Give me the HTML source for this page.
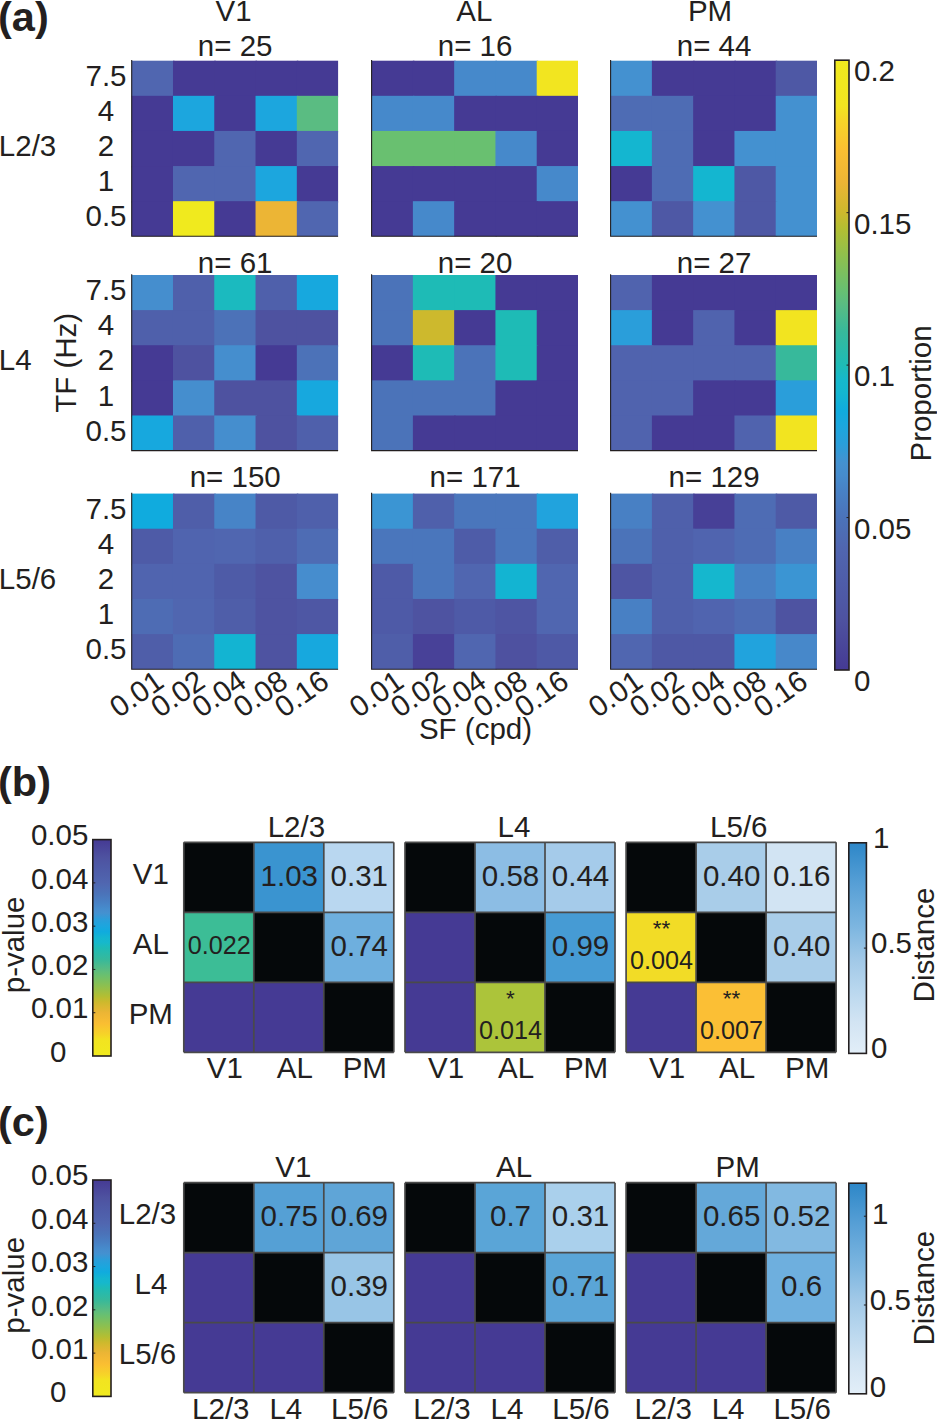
<!DOCTYPE html>
<html><head><meta charset="utf-8"><title>Figure</title>
<style>
html,body{margin:0;padding:0;background:#fff;}
body{width:937px;height:1419px;overflow:hidden;}
svg{display:block;}
text{font-family:"Liberation Sans", sans-serif;fill:#231f20;}
</style></head>
<body>
<svg width="937" height="1419" viewBox="0 0 937 1419">
<rect width="937" height="1419" fill="#ffffff"/>
<g id="panel-a">
<rect x="131.70" y="60.70" width="42.78" height="36.62" fill="#5066b0"/>
<rect x="172.98" y="60.70" width="42.78" height="36.62" fill="#453a94"/>
<rect x="214.26" y="60.70" width="42.78" height="36.62" fill="#453a94"/>
<rect x="255.54" y="60.70" width="42.78" height="36.62" fill="#453a94"/>
<rect x="296.82" y="60.70" width="41.28" height="36.62" fill="#453a94"/>
<rect x="131.70" y="95.82" width="42.78" height="36.62" fill="#453a94"/>
<rect x="172.98" y="95.82" width="42.78" height="36.62" fill="#1ca6de"/>
<rect x="214.26" y="95.82" width="42.78" height="36.62" fill="#453a94"/>
<rect x="255.54" y="95.82" width="42.78" height="36.62" fill="#1ca6de"/>
<rect x="296.82" y="95.82" width="41.28" height="36.62" fill="#5abc82"/>
<rect x="131.70" y="130.94" width="42.78" height="36.62" fill="#453a94"/>
<rect x="172.98" y="130.94" width="42.78" height="36.62" fill="#453a94"/>
<rect x="214.26" y="130.94" width="42.78" height="36.62" fill="#5066b0"/>
<rect x="255.54" y="130.94" width="42.78" height="36.62" fill="#453a94"/>
<rect x="296.82" y="130.94" width="41.28" height="36.62" fill="#5066b0"/>
<rect x="131.70" y="166.06" width="42.78" height="36.62" fill="#453a94"/>
<rect x="172.98" y="166.06" width="42.78" height="36.62" fill="#5066b0"/>
<rect x="214.26" y="166.06" width="42.78" height="36.62" fill="#5066b0"/>
<rect x="255.54" y="166.06" width="42.78" height="36.62" fill="#1ca6de"/>
<rect x="296.82" y="166.06" width="41.28" height="36.62" fill="#453a94"/>
<rect x="131.70" y="201.18" width="42.78" height="35.12" fill="#453a94"/>
<rect x="172.98" y="201.18" width="42.78" height="35.12" fill="#f0ea1e"/>
<rect x="214.26" y="201.18" width="42.78" height="35.12" fill="#453a94"/>
<rect x="255.54" y="201.18" width="42.78" height="35.12" fill="#ecb535"/>
<rect x="296.82" y="201.18" width="41.28" height="35.12" fill="#5066b0"/>
<path d="M131.70 59.90V236.30H338.10" fill="none" stroke="#231f20" stroke-width="1.1"/>
<text x="235.20" y="56.00" font-size="29.5" text-anchor="middle" font-weight="normal" >n= 25</text>
<text x="106.00" y="85.86" font-size="29.5" text-anchor="middle" font-weight="normal" >7.5</text>
<text x="106.00" y="120.98" font-size="29.5" text-anchor="middle" font-weight="normal" >4</text>
<text x="106.00" y="156.10" font-size="29.5" text-anchor="middle" font-weight="normal" >2</text>
<text x="106.00" y="191.22" font-size="29.5" text-anchor="middle" font-weight="normal" >1</text>
<text x="106.00" y="226.34" font-size="29.5" text-anchor="middle" font-weight="normal" >0.5</text>
<rect x="371.60" y="60.70" width="42.78" height="36.62" fill="#453a94"/>
<rect x="412.88" y="60.70" width="42.78" height="36.62" fill="#453a94"/>
<rect x="454.16" y="60.70" width="42.78" height="36.62" fill="#4689cb"/>
<rect x="495.44" y="60.70" width="42.78" height="36.62" fill="#4689cb"/>
<rect x="536.72" y="60.70" width="41.28" height="36.62" fill="#f2e520"/>
<rect x="371.60" y="95.82" width="42.78" height="36.62" fill="#4689cb"/>
<rect x="412.88" y="95.82" width="42.78" height="36.62" fill="#4689cb"/>
<rect x="454.16" y="95.82" width="42.78" height="36.62" fill="#453a94"/>
<rect x="495.44" y="95.82" width="42.78" height="36.62" fill="#453a94"/>
<rect x="536.72" y="95.82" width="41.28" height="36.62" fill="#453a94"/>
<rect x="371.60" y="130.94" width="42.78" height="36.62" fill="#69c070"/>
<rect x="412.88" y="130.94" width="42.78" height="36.62" fill="#69c070"/>
<rect x="454.16" y="130.94" width="42.78" height="36.62" fill="#69c070"/>
<rect x="495.44" y="130.94" width="42.78" height="36.62" fill="#4689cb"/>
<rect x="536.72" y="130.94" width="41.28" height="36.62" fill="#453a94"/>
<rect x="371.60" y="166.06" width="42.78" height="36.62" fill="#453a94"/>
<rect x="412.88" y="166.06" width="42.78" height="36.62" fill="#453a94"/>
<rect x="454.16" y="166.06" width="42.78" height="36.62" fill="#453a94"/>
<rect x="495.44" y="166.06" width="42.78" height="36.62" fill="#453a94"/>
<rect x="536.72" y="166.06" width="41.28" height="36.62" fill="#4689cb"/>
<rect x="371.60" y="201.18" width="42.78" height="35.12" fill="#453a94"/>
<rect x="412.88" y="201.18" width="42.78" height="35.12" fill="#4689cb"/>
<rect x="454.16" y="201.18" width="42.78" height="35.12" fill="#453a94"/>
<rect x="495.44" y="201.18" width="42.78" height="35.12" fill="#453a94"/>
<rect x="536.72" y="201.18" width="41.28" height="35.12" fill="#453a94"/>
<path d="M371.60 59.90V236.30H578.00" fill="none" stroke="#231f20" stroke-width="1.1"/>
<text x="475.10" y="56.00" font-size="29.5" text-anchor="middle" font-weight="normal" >n= 16</text>
<rect x="610.60" y="60.70" width="42.78" height="36.62" fill="#4491d0"/>
<rect x="651.88" y="60.70" width="42.78" height="36.62" fill="#453a94"/>
<rect x="693.16" y="60.70" width="42.78" height="36.62" fill="#453a94"/>
<rect x="734.44" y="60.70" width="42.78" height="36.62" fill="#453a94"/>
<rect x="775.72" y="60.70" width="41.28" height="36.62" fill="#4e58a5"/>
<rect x="610.60" y="95.82" width="42.78" height="36.62" fill="#4e6cb4"/>
<rect x="651.88" y="95.82" width="42.78" height="36.62" fill="#4e6cb4"/>
<rect x="693.16" y="95.82" width="42.78" height="36.62" fill="#453a94"/>
<rect x="734.44" y="95.82" width="42.78" height="36.62" fill="#453a94"/>
<rect x="775.72" y="95.82" width="41.28" height="36.62" fill="#4491d0"/>
<rect x="610.60" y="130.94" width="42.78" height="36.62" fill="#14b6d0"/>
<rect x="651.88" y="130.94" width="42.78" height="36.62" fill="#4e6cb4"/>
<rect x="693.16" y="130.94" width="42.78" height="36.62" fill="#453a94"/>
<rect x="734.44" y="130.94" width="42.78" height="36.62" fill="#4491d0"/>
<rect x="775.72" y="130.94" width="41.28" height="36.62" fill="#4491d0"/>
<rect x="610.60" y="166.06" width="42.78" height="36.62" fill="#453a94"/>
<rect x="651.88" y="166.06" width="42.78" height="36.62" fill="#4e6cb4"/>
<rect x="693.16" y="166.06" width="42.78" height="36.62" fill="#14b6d0"/>
<rect x="734.44" y="166.06" width="42.78" height="36.62" fill="#4e58a5"/>
<rect x="775.72" y="166.06" width="41.28" height="36.62" fill="#4491d0"/>
<rect x="610.60" y="201.18" width="42.78" height="35.12" fill="#4491d0"/>
<rect x="651.88" y="201.18" width="42.78" height="35.12" fill="#4e58a5"/>
<rect x="693.16" y="201.18" width="42.78" height="35.12" fill="#4491d0"/>
<rect x="734.44" y="201.18" width="42.78" height="35.12" fill="#4e58a5"/>
<rect x="775.72" y="201.18" width="41.28" height="35.12" fill="#4491d0"/>
<path d="M610.60 59.90V236.30H817.00" fill="none" stroke="#231f20" stroke-width="1.1"/>
<text x="714.10" y="56.00" font-size="29.5" text-anchor="middle" font-weight="normal" >n= 44</text>
<rect x="131.70" y="275.00" width="42.78" height="36.62" fill="#458ece"/>
<rect x="172.98" y="275.00" width="42.78" height="36.62" fill="#4f60ab"/>
<rect x="214.26" y="275.00" width="42.78" height="36.62" fill="#1bbabf"/>
<rect x="255.54" y="275.00" width="42.78" height="36.62" fill="#4f60ab"/>
<rect x="296.82" y="275.00" width="41.28" height="36.62" fill="#17a8de"/>
<rect x="131.70" y="310.12" width="42.78" height="36.62" fill="#4f60ab"/>
<rect x="172.98" y="310.12" width="42.78" height="36.62" fill="#4f60ab"/>
<rect x="214.26" y="310.12" width="42.78" height="36.62" fill="#4c72b8"/>
<rect x="255.54" y="310.12" width="42.78" height="36.62" fill="#4e52a0"/>
<rect x="296.82" y="310.12" width="41.28" height="36.62" fill="#4e52a0"/>
<rect x="131.70" y="345.24" width="42.78" height="36.62" fill="#453a94"/>
<rect x="172.98" y="345.24" width="42.78" height="36.62" fill="#4e52a0"/>
<rect x="214.26" y="345.24" width="42.78" height="36.62" fill="#458ece"/>
<rect x="255.54" y="345.24" width="42.78" height="36.62" fill="#453a94"/>
<rect x="296.82" y="345.24" width="41.28" height="36.62" fill="#4c72b8"/>
<rect x="131.70" y="380.36" width="42.78" height="36.62" fill="#453a94"/>
<rect x="172.98" y="380.36" width="42.78" height="36.62" fill="#458ece"/>
<rect x="214.26" y="380.36" width="42.78" height="36.62" fill="#4e52a0"/>
<rect x="255.54" y="380.36" width="42.78" height="36.62" fill="#4e52a0"/>
<rect x="296.82" y="380.36" width="41.28" height="36.62" fill="#17a8de"/>
<rect x="131.70" y="415.48" width="42.78" height="35.12" fill="#17a8de"/>
<rect x="172.98" y="415.48" width="42.78" height="35.12" fill="#4f60ab"/>
<rect x="214.26" y="415.48" width="42.78" height="35.12" fill="#458ece"/>
<rect x="255.54" y="415.48" width="42.78" height="35.12" fill="#4e52a0"/>
<rect x="296.82" y="415.48" width="41.28" height="35.12" fill="#4f60ab"/>
<path d="M131.70 274.20V450.60H338.10" fill="none" stroke="#231f20" stroke-width="1.1"/>
<text x="235.20" y="272.70" font-size="29.5" text-anchor="middle" font-weight="normal" >n= 61</text>
<text x="106.00" y="300.16" font-size="29.5" text-anchor="middle" font-weight="normal" >7.5</text>
<text x="106.00" y="335.28" font-size="29.5" text-anchor="middle" font-weight="normal" >4</text>
<text x="106.00" y="370.40" font-size="29.5" text-anchor="middle" font-weight="normal" >2</text>
<text x="106.00" y="405.52" font-size="29.5" text-anchor="middle" font-weight="normal" >1</text>
<text x="106.00" y="440.64" font-size="29.5" text-anchor="middle" font-weight="normal" >0.5</text>
<rect x="371.60" y="275.00" width="42.78" height="36.62" fill="#4b73b9"/>
<rect x="412.88" y="275.00" width="42.78" height="36.62" fill="#1ebbb6"/>
<rect x="454.16" y="275.00" width="42.78" height="36.62" fill="#1ebbb6"/>
<rect x="495.44" y="275.00" width="42.78" height="36.62" fill="#453a94"/>
<rect x="536.72" y="275.00" width="41.28" height="36.62" fill="#453a94"/>
<rect x="371.60" y="310.12" width="42.78" height="36.62" fill="#4b73b9"/>
<rect x="412.88" y="310.12" width="42.78" height="36.62" fill="#cdb92d"/>
<rect x="454.16" y="310.12" width="42.78" height="36.62" fill="#453a94"/>
<rect x="495.44" y="310.12" width="42.78" height="36.62" fill="#1ebbb6"/>
<rect x="536.72" y="310.12" width="41.28" height="36.62" fill="#453a94"/>
<rect x="371.60" y="345.24" width="42.78" height="36.62" fill="#453a94"/>
<rect x="412.88" y="345.24" width="42.78" height="36.62" fill="#1ebbb6"/>
<rect x="454.16" y="345.24" width="42.78" height="36.62" fill="#4b73b9"/>
<rect x="495.44" y="345.24" width="42.78" height="36.62" fill="#1ebbb6"/>
<rect x="536.72" y="345.24" width="41.28" height="36.62" fill="#453a94"/>
<rect x="371.60" y="380.36" width="42.78" height="36.62" fill="#4b73b9"/>
<rect x="412.88" y="380.36" width="42.78" height="36.62" fill="#4b73b9"/>
<rect x="454.16" y="380.36" width="42.78" height="36.62" fill="#4b73b9"/>
<rect x="495.44" y="380.36" width="42.78" height="36.62" fill="#453a94"/>
<rect x="536.72" y="380.36" width="41.28" height="36.62" fill="#453a94"/>
<rect x="371.60" y="415.48" width="42.78" height="35.12" fill="#4b73b9"/>
<rect x="412.88" y="415.48" width="42.78" height="35.12" fill="#453a94"/>
<rect x="454.16" y="415.48" width="42.78" height="35.12" fill="#453a94"/>
<rect x="495.44" y="415.48" width="42.78" height="35.12" fill="#453a94"/>
<rect x="536.72" y="415.48" width="41.28" height="35.12" fill="#453a94"/>
<path d="M371.60 274.20V450.60H578.00" fill="none" stroke="#231f20" stroke-width="1.1"/>
<text x="475.10" y="272.70" font-size="29.5" text-anchor="middle" font-weight="normal" >n= 20</text>
<rect x="610.60" y="275.00" width="42.78" height="36.62" fill="#5063ae"/>
<rect x="651.88" y="275.00" width="42.78" height="36.62" fill="#453a94"/>
<rect x="693.16" y="275.00" width="42.78" height="36.62" fill="#453a94"/>
<rect x="734.44" y="275.00" width="42.78" height="36.62" fill="#453a94"/>
<rect x="775.72" y="275.00" width="41.28" height="36.62" fill="#453a94"/>
<rect x="610.60" y="310.12" width="42.78" height="36.62" fill="#2a9eda"/>
<rect x="651.88" y="310.12" width="42.78" height="36.62" fill="#453a94"/>
<rect x="693.16" y="310.12" width="42.78" height="36.62" fill="#5063ae"/>
<rect x="734.44" y="310.12" width="42.78" height="36.62" fill="#453a94"/>
<rect x="775.72" y="310.12" width="41.28" height="36.62" fill="#f2e420"/>
<rect x="610.60" y="345.24" width="42.78" height="36.62" fill="#5063ae"/>
<rect x="651.88" y="345.24" width="42.78" height="36.62" fill="#5063ae"/>
<rect x="693.16" y="345.24" width="42.78" height="36.62" fill="#5063ae"/>
<rect x="734.44" y="345.24" width="42.78" height="36.62" fill="#5063ae"/>
<rect x="775.72" y="345.24" width="41.28" height="36.62" fill="#37b99b"/>
<rect x="610.60" y="380.36" width="42.78" height="36.62" fill="#5063ae"/>
<rect x="651.88" y="380.36" width="42.78" height="36.62" fill="#5063ae"/>
<rect x="693.16" y="380.36" width="42.78" height="36.62" fill="#453a94"/>
<rect x="734.44" y="380.36" width="42.78" height="36.62" fill="#453a94"/>
<rect x="775.72" y="380.36" width="41.28" height="36.62" fill="#2a9eda"/>
<rect x="610.60" y="415.48" width="42.78" height="35.12" fill="#5063ae"/>
<rect x="651.88" y="415.48" width="42.78" height="35.12" fill="#453a94"/>
<rect x="693.16" y="415.48" width="42.78" height="35.12" fill="#453a94"/>
<rect x="734.44" y="415.48" width="42.78" height="35.12" fill="#5063ae"/>
<rect x="775.72" y="415.48" width="41.28" height="35.12" fill="#f2e420"/>
<path d="M610.60 274.20V450.60H817.00" fill="none" stroke="#231f20" stroke-width="1.1"/>
<text x="714.10" y="272.70" font-size="29.5" text-anchor="middle" font-weight="normal" >n= 27</text>
<rect x="131.70" y="493.60" width="42.78" height="36.62" fill="#10abde"/>
<rect x="172.98" y="493.60" width="42.78" height="36.62" fill="#4f5ea9"/>
<rect x="214.26" y="493.60" width="42.78" height="36.62" fill="#4784c7"/>
<rect x="255.54" y="493.60" width="42.78" height="36.62" fill="#4e5aa6"/>
<rect x="296.82" y="493.60" width="41.28" height="36.62" fill="#4f60ab"/>
<rect x="131.70" y="528.72" width="42.78" height="36.62" fill="#4e5ba7"/>
<rect x="172.98" y="528.72" width="42.78" height="36.62" fill="#5064af"/>
<rect x="214.26" y="528.72" width="42.78" height="36.62" fill="#5066b0"/>
<rect x="255.54" y="528.72" width="42.78" height="36.62" fill="#4f60ab"/>
<rect x="296.82" y="528.72" width="41.28" height="36.62" fill="#4e6cb4"/>
<rect x="131.70" y="563.84" width="42.78" height="36.62" fill="#5064af"/>
<rect x="172.98" y="563.84" width="42.78" height="36.62" fill="#5064af"/>
<rect x="214.26" y="563.84" width="42.78" height="36.62" fill="#4e5ba7"/>
<rect x="255.54" y="563.84" width="42.78" height="36.62" fill="#4e53a1"/>
<rect x="296.82" y="563.84" width="41.28" height="36.62" fill="#468dce"/>
<rect x="131.70" y="598.96" width="42.78" height="36.62" fill="#4e6cb4"/>
<rect x="172.98" y="598.96" width="42.78" height="36.62" fill="#5066b0"/>
<rect x="214.26" y="598.96" width="42.78" height="36.62" fill="#4f5ea9"/>
<rect x="255.54" y="598.96" width="42.78" height="36.62" fill="#4e53a1"/>
<rect x="296.82" y="598.96" width="41.28" height="36.62" fill="#4e57a4"/>
<rect x="131.70" y="634.08" width="42.78" height="35.12" fill="#4f5ea9"/>
<rect x="172.98" y="634.08" width="42.78" height="35.12" fill="#4e6cb4"/>
<rect x="214.26" y="634.08" width="42.78" height="35.12" fill="#13b4d2"/>
<rect x="255.54" y="634.08" width="42.78" height="35.12" fill="#4e53a1"/>
<rect x="296.82" y="634.08" width="41.28" height="35.12" fill="#17a8de"/>
<path d="M131.70 492.80V669.20H338.10" fill="none" stroke="#231f20" stroke-width="1.1"/>
<text x="235.20" y="487.00" font-size="29.5" text-anchor="middle" font-weight="normal" >n= 150</text>
<text x="106.00" y="518.76" font-size="29.5" text-anchor="middle" font-weight="normal" >7.5</text>
<text x="106.00" y="553.88" font-size="29.5" text-anchor="middle" font-weight="normal" >4</text>
<text x="106.00" y="589.00" font-size="29.5" text-anchor="middle" font-weight="normal" >2</text>
<text x="106.00" y="624.12" font-size="29.5" text-anchor="middle" font-weight="normal" >1</text>
<text x="106.00" y="659.24" font-size="29.5" text-anchor="middle" font-weight="normal" >0.5</text>
<text x="165.74" y="685.60" font-size="29.5" text-anchor="end" transform="rotate(-35 165.74 685.60)">0.01</text>
<text x="207.02" y="685.60" font-size="29.5" text-anchor="end" transform="rotate(-35 207.02 685.60)">0.02</text>
<text x="248.30" y="685.60" font-size="29.5" text-anchor="end" transform="rotate(-35 248.30 685.60)">0.04</text>
<text x="289.58" y="685.60" font-size="29.5" text-anchor="end" transform="rotate(-35 289.58 685.60)">0.08</text>
<text x="330.86" y="685.60" font-size="29.5" text-anchor="end" transform="rotate(-35 330.86 685.60)">0.16</text>
<rect x="371.60" y="493.60" width="42.78" height="36.62" fill="#3b95d3"/>
<rect x="412.88" y="493.60" width="42.78" height="36.62" fill="#4f60ab"/>
<rect x="454.16" y="493.60" width="42.78" height="36.62" fill="#4a76bc"/>
<rect x="495.44" y="493.60" width="42.78" height="36.62" fill="#4a76bc"/>
<rect x="536.72" y="493.60" width="41.28" height="36.62" fill="#21a3dd"/>
<rect x="371.60" y="528.72" width="42.78" height="36.62" fill="#4a76bc"/>
<rect x="412.88" y="528.72" width="42.78" height="36.62" fill="#4a76bc"/>
<rect x="454.16" y="528.72" width="42.78" height="36.62" fill="#4e5ca8"/>
<rect x="495.44" y="528.72" width="42.78" height="36.62" fill="#4a76bc"/>
<rect x="536.72" y="528.72" width="41.28" height="36.62" fill="#4f5ea9"/>
<rect x="371.60" y="563.84" width="42.78" height="36.62" fill="#4e5aa7"/>
<rect x="412.88" y="563.84" width="42.78" height="36.62" fill="#4a76bc"/>
<rect x="454.16" y="563.84" width="42.78" height="36.62" fill="#5066b0"/>
<rect x="495.44" y="563.84" width="42.78" height="36.62" fill="#13b4d2"/>
<rect x="536.72" y="563.84" width="41.28" height="36.62" fill="#5066b0"/>
<rect x="371.60" y="598.96" width="42.78" height="36.62" fill="#4e5aa7"/>
<rect x="412.88" y="598.96" width="42.78" height="36.62" fill="#4e53a1"/>
<rect x="454.16" y="598.96" width="42.78" height="36.62" fill="#4e5aa7"/>
<rect x="495.44" y="598.96" width="42.78" height="36.62" fill="#4e55a3"/>
<rect x="536.72" y="598.96" width="41.28" height="36.62" fill="#5066b0"/>
<rect x="371.60" y="634.08" width="42.78" height="35.12" fill="#4f5ea9"/>
<rect x="412.88" y="634.08" width="42.78" height="35.12" fill="#484198"/>
<rect x="454.16" y="634.08" width="42.78" height="35.12" fill="#5066b0"/>
<rect x="495.44" y="634.08" width="42.78" height="35.12" fill="#4e51a0"/>
<rect x="536.72" y="634.08" width="41.28" height="35.12" fill="#4e59a6"/>
<path d="M371.60 492.80V669.20H578.00" fill="none" stroke="#231f20" stroke-width="1.1"/>
<text x="475.10" y="487.00" font-size="29.5" text-anchor="middle" font-weight="normal" >n= 171</text>
<text x="405.64" y="685.60" font-size="29.5" text-anchor="end" transform="rotate(-35 405.64 685.60)">0.01</text>
<text x="446.92" y="685.60" font-size="29.5" text-anchor="end" transform="rotate(-35 446.92 685.60)">0.02</text>
<text x="488.20" y="685.60" font-size="29.5" text-anchor="end" transform="rotate(-35 488.20 685.60)">0.04</text>
<text x="529.48" y="685.60" font-size="29.5" text-anchor="end" transform="rotate(-35 529.48 685.60)">0.08</text>
<text x="570.76" y="685.60" font-size="29.5" text-anchor="end" transform="rotate(-35 570.76 685.60)">0.16</text>
<rect x="610.60" y="493.60" width="42.78" height="36.62" fill="#4880c4"/>
<rect x="651.88" y="493.60" width="42.78" height="36.62" fill="#4f60ab"/>
<rect x="693.16" y="493.60" width="42.78" height="36.62" fill="#474097"/>
<rect x="734.44" y="493.60" width="42.78" height="36.62" fill="#4e6cb4"/>
<rect x="775.72" y="493.60" width="41.28" height="36.62" fill="#4e5aa6"/>
<rect x="610.60" y="528.72" width="42.78" height="36.62" fill="#4b73b9"/>
<rect x="651.88" y="528.72" width="42.78" height="36.62" fill="#4f60ab"/>
<rect x="693.16" y="528.72" width="42.78" height="36.62" fill="#5064af"/>
<rect x="734.44" y="528.72" width="42.78" height="36.62" fill="#4e6cb4"/>
<rect x="775.72" y="528.72" width="41.28" height="36.62" fill="#4880c4"/>
<rect x="610.60" y="563.84" width="42.78" height="36.62" fill="#4e55a3"/>
<rect x="651.88" y="563.84" width="42.78" height="36.62" fill="#4f60ab"/>
<rect x="693.16" y="563.84" width="42.78" height="36.62" fill="#15b7ce"/>
<rect x="734.44" y="563.84" width="42.78" height="36.62" fill="#4880c4"/>
<rect x="775.72" y="563.84" width="41.28" height="36.62" fill="#3b95d3"/>
<rect x="610.60" y="598.96" width="42.78" height="36.62" fill="#4880c4"/>
<rect x="651.88" y="598.96" width="42.78" height="36.62" fill="#4f60ab"/>
<rect x="693.16" y="598.96" width="42.78" height="36.62" fill="#5064af"/>
<rect x="734.44" y="598.96" width="42.78" height="36.62" fill="#4e6cb4"/>
<rect x="775.72" y="598.96" width="41.28" height="36.62" fill="#4e53a1"/>
<rect x="610.60" y="634.08" width="42.78" height="35.12" fill="#5066b0"/>
<rect x="651.88" y="634.08" width="42.78" height="35.12" fill="#4e58a5"/>
<rect x="693.16" y="634.08" width="42.78" height="35.12" fill="#4e58a5"/>
<rect x="734.44" y="634.08" width="42.78" height="35.12" fill="#21a3dd"/>
<rect x="775.72" y="634.08" width="41.28" height="35.12" fill="#4788ca"/>
<path d="M610.60 492.80V669.20H817.00" fill="none" stroke="#231f20" stroke-width="1.1"/>
<text x="714.10" y="487.00" font-size="29.5" text-anchor="middle" font-weight="normal" >n= 129</text>
<text x="644.64" y="685.60" font-size="29.5" text-anchor="end" transform="rotate(-35 644.64 685.60)">0.01</text>
<text x="685.92" y="685.60" font-size="29.5" text-anchor="end" transform="rotate(-35 685.92 685.60)">0.02</text>
<text x="727.20" y="685.60" font-size="29.5" text-anchor="end" transform="rotate(-35 727.20 685.60)">0.04</text>
<text x="768.48" y="685.60" font-size="29.5" text-anchor="end" transform="rotate(-35 768.48 685.60)">0.08</text>
<text x="809.76" y="685.60" font-size="29.5" text-anchor="end" transform="rotate(-35 809.76 685.60)">0.16</text>
<text x="233.60" y="20.80" font-size="29.5" text-anchor="middle" font-weight="normal" >V1</text>
<text x="474.30" y="20.80" font-size="29.5" text-anchor="middle" font-weight="normal" >AL</text>
<text x="710.00" y="20.80" font-size="29.5" text-anchor="middle" font-weight="normal" >PM</text>
<text x="-1.20" y="156.10" font-size="29.5" text-anchor="start" font-weight="normal" >L2/3</text>
<text x="-1.20" y="370.40" font-size="29.5" text-anchor="start" font-weight="normal" >L4</text>
<text x="-1.20" y="589.00" font-size="29.5" text-anchor="start" font-weight="normal" >L5/6</text>
<text x="0" y="0" font-size="29.5" text-anchor="middle" transform="translate(75.5 362.8) rotate(-90)">TF (Hz)</text>
<text x="475.50" y="738.50" font-size="29.5" text-anchor="middle" font-weight="normal" >SF (cpd)</text>
<text x="-2.00" y="31.00" font-size="41.5" text-anchor="start" font-weight="bold" >(a)</text>
<defs><linearGradient id="gpar" x1="0" y1="1" x2="0" y2="0">
<stop offset="0.000" stop-color="#453a94"/>
<stop offset="0.082" stop-color="#4e52a0"/>
<stop offset="0.115" stop-color="#4e58a5"/>
<stop offset="0.165" stop-color="#4f60ab"/>
<stop offset="0.200" stop-color="#5066b0"/>
<stop offset="0.250" stop-color="#4b73b9"/>
<stop offset="0.290" stop-color="#4880c4"/>
<stop offset="0.320" stop-color="#468ccd"/>
<stop offset="0.340" stop-color="#4491d0"/>
<stop offset="0.370" stop-color="#2a9eda"/>
<stop offset="0.400" stop-color="#1ca6de"/>
<stop offset="0.425" stop-color="#10abde"/>
<stop offset="0.455" stop-color="#14b6d0"/>
<stop offset="0.475" stop-color="#16b8cc"/>
<stop offset="0.500" stop-color="#1ebbb6"/>
<stop offset="0.555" stop-color="#37b99b"/>
<stop offset="0.600" stop-color="#5abc82"/>
<stop offset="0.625" stop-color="#69c070"/>
<stop offset="0.675" stop-color="#8cc050"/>
<stop offset="0.725" stop-color="#b4be32"/>
<stop offset="0.750" stop-color="#cdb92d"/>
<stop offset="0.800" stop-color="#ecb535"/>
<stop offset="0.850" stop-color="#fabe32"/>
<stop offset="0.900" stop-color="#f6d428"/>
<stop offset="0.925" stop-color="#f2e420"/>
<stop offset="1.000" stop-color="#f0ea1e"/>
</linearGradient>
<linearGradient id="gparr" x1="0" y1="0" x2="0" y2="1">
<stop offset="0.000" stop-color="#453a94"/>
<stop offset="0.082" stop-color="#4e52a0"/>
<stop offset="0.115" stop-color="#4e58a5"/>
<stop offset="0.165" stop-color="#4f60ab"/>
<stop offset="0.200" stop-color="#5066b0"/>
<stop offset="0.250" stop-color="#4b73b9"/>
<stop offset="0.290" stop-color="#4880c4"/>
<stop offset="0.320" stop-color="#468ccd"/>
<stop offset="0.340" stop-color="#4491d0"/>
<stop offset="0.370" stop-color="#2a9eda"/>
<stop offset="0.400" stop-color="#1ca6de"/>
<stop offset="0.425" stop-color="#10abde"/>
<stop offset="0.455" stop-color="#14b6d0"/>
<stop offset="0.475" stop-color="#16b8cc"/>
<stop offset="0.500" stop-color="#1ebbb6"/>
<stop offset="0.555" stop-color="#37b99b"/>
<stop offset="0.600" stop-color="#5abc82"/>
<stop offset="0.625" stop-color="#69c070"/>
<stop offset="0.675" stop-color="#8cc050"/>
<stop offset="0.725" stop-color="#b4be32"/>
<stop offset="0.750" stop-color="#cdb92d"/>
<stop offset="0.800" stop-color="#ecb535"/>
<stop offset="0.850" stop-color="#fabe32"/>
<stop offset="0.900" stop-color="#f6d428"/>
<stop offset="0.925" stop-color="#f2e420"/>
<stop offset="1.000" stop-color="#f0ea1e"/>
</linearGradient></defs>
<rect x="834.8" y="60.2" width="14.2" height="609.8" fill="url(#gpar)" stroke="#231f20" stroke-width="1.6"/>
<text x="854.00" y="691.00" font-size="29.5" text-anchor="start" font-weight="normal" >0</text>
<line x1="846.50" y1="517.55" x2="849.00" y2="517.55" stroke="#231f20" stroke-width="1"/>
<text x="854.00" y="538.55" font-size="29.5" text-anchor="start" font-weight="normal" >0.05</text>
<line x1="846.50" y1="365.10" x2="849.00" y2="365.10" stroke="#231f20" stroke-width="1"/>
<text x="854.00" y="386.10" font-size="29.5" text-anchor="start" font-weight="normal" >0.1</text>
<line x1="846.50" y1="212.65" x2="849.00" y2="212.65" stroke="#231f20" stroke-width="1"/>
<text x="854.00" y="233.65" font-size="29.5" text-anchor="start" font-weight="normal" >0.15</text>
<text x="854.00" y="81.20" font-size="29.5" text-anchor="start" font-weight="normal" >0.2</text>
<text x="0" y="0" font-size="29.5" text-anchor="middle" transform="translate(931.3 393.5) rotate(-90)">Proportion</text>
</g>
<defs><linearGradient id="gblue" x1="0" y1="1" x2="0" y2="0">
<stop offset="0.000" stop-color="#e2eef8"/>
<stop offset="0.150" stop-color="#d2e4f3"/>
<stop offset="0.300" stop-color="#b9d7ee"/>
<stop offset="0.450" stop-color="#a0c8e7"/>
<stop offset="0.600" stop-color="#7db6e0"/>
<stop offset="0.800" stop-color="#58a0d6"/>
<stop offset="1.000" stop-color="#2d87c8"/>
</linearGradient></defs>
<text x="-2.00" y="795.70" font-size="41.5" text-anchor="start" font-weight="bold" >(b)</text>
<rect x="92.8" y="839.60" width="18.2" height="216.4" fill="url(#gparr)" stroke="#231f20" stroke-width="1.6"/>
<text x="88.30" y="844.70" font-size="29.5" text-anchor="end" font-weight="normal" >0.05</text>
<line x1="92.80" y1="882.88" x2="95.30" y2="882.88" stroke="#231f20" stroke-width="1"/>
<text x="88.30" y="888.70" font-size="29.5" text-anchor="end" font-weight="normal" >0.04</text>
<line x1="92.80" y1="926.16" x2="95.30" y2="926.16" stroke="#231f20" stroke-width="1"/>
<text x="88.30" y="931.70" font-size="29.5" text-anchor="end" font-weight="normal" >0.03</text>
<line x1="92.80" y1="969.44" x2="95.30" y2="969.44" stroke="#231f20" stroke-width="1"/>
<text x="88.30" y="975.30" font-size="29.5" text-anchor="end" font-weight="normal" >0.02</text>
<line x1="92.80" y1="1012.72" x2="95.30" y2="1012.72" stroke="#231f20" stroke-width="1"/>
<text x="88.30" y="1018.30" font-size="29.5" text-anchor="end" font-weight="normal" >0.01</text>
<text x="66.30" y="1061.70" font-size="29.5" text-anchor="end" font-weight="normal" >0</text>
<text x="0" y="0" font-size="29.5" text-anchor="middle" transform="translate(24.0 944.90) rotate(-90)">p-value</text>
<text x="150.80" y="884.00" font-size="29.5" text-anchor="middle" font-weight="normal" >V1</text>
<text x="150.80" y="954.00" font-size="29.5" text-anchor="middle" font-weight="normal" >AL</text>
<text x="150.80" y="1024.00" font-size="29.5" text-anchor="middle" font-weight="normal" >PM</text>
<rect x="183.80" y="842.30" width="70.00" height="70.00" fill="#05080a"/>
<rect x="253.80" y="842.30" width="70.00" height="70.00" fill="#3a94d0"/>
<rect x="323.80" y="842.30" width="70.00" height="70.00" fill="#b9d7f0"/>
<rect x="183.80" y="912.30" width="70.00" height="70.00" fill="#3cbd96"/>
<rect x="253.80" y="912.30" width="70.00" height="70.00" fill="#05080a"/>
<rect x="323.80" y="912.30" width="70.00" height="70.00" fill="#6eafde"/>
<rect x="183.80" y="982.30" width="70.00" height="70.00" fill="#453a94"/>
<rect x="253.80" y="982.30" width="70.00" height="70.00" fill="#453a94"/>
<rect x="323.80" y="982.30" width="70.00" height="70.00" fill="#05080a"/>
<line x1="183.80" y1="842.30" x2="183.80" y2="1052.30" stroke="#4a4a4a" stroke-width="1.7"/>
<line x1="183.80" y1="842.30" x2="393.80" y2="842.30" stroke="#4a4a4a" stroke-width="1.7"/>
<line x1="253.80" y1="842.30" x2="253.80" y2="1052.30" stroke="#4a4a4a" stroke-width="1.7"/>
<line x1="183.80" y1="912.30" x2="393.80" y2="912.30" stroke="#4a4a4a" stroke-width="1.7"/>
<line x1="323.80" y1="842.30" x2="323.80" y2="1052.30" stroke="#4a4a4a" stroke-width="1.7"/>
<line x1="183.80" y1="982.30" x2="393.80" y2="982.30" stroke="#4a4a4a" stroke-width="1.7"/>
<line x1="393.80" y1="842.30" x2="393.80" y2="1052.30" stroke="#4a4a4a" stroke-width="1.7"/>
<line x1="183.80" y1="1052.30" x2="393.80" y2="1052.30" stroke="#4a4a4a" stroke-width="1.7"/>
<text x="289.30" y="885.90" font-size="29.5" text-anchor="middle" font-weight="normal" >1.03</text>
<text x="359.30" y="885.90" font-size="29.5" text-anchor="middle" font-weight="normal" >0.31</text>
<text x="219.30" y="954.20" font-size="25.2" text-anchor="middle" font-weight="normal" >0.022</text>
<text x="359.30" y="955.90" font-size="29.5" text-anchor="middle" font-weight="normal" >0.74</text>
<text x="296.40" y="836.60" font-size="29.5" text-anchor="middle" font-weight="normal" >L2/3</text>
<text x="224.80" y="1078.30" font-size="29.5" text-anchor="middle" font-weight="normal" >V1</text>
<text x="294.80" y="1078.30" font-size="29.5" text-anchor="middle" font-weight="normal" >AL</text>
<text x="364.80" y="1078.30" font-size="29.5" text-anchor="middle" font-weight="normal" >PM</text>
<rect x="405.00" y="842.30" width="70.00" height="70.00" fill="#05080a"/>
<rect x="475.00" y="842.30" width="70.00" height="70.00" fill="#8cbde4"/>
<rect x="545.00" y="842.30" width="70.00" height="70.00" fill="#a5cbea"/>
<rect x="405.00" y="912.30" width="70.00" height="70.00" fill="#453a94"/>
<rect x="475.00" y="912.30" width="70.00" height="70.00" fill="#05080a"/>
<rect x="545.00" y="912.30" width="70.00" height="70.00" fill="#469bd4"/>
<rect x="405.00" y="982.30" width="70.00" height="70.00" fill="#453a94"/>
<rect x="475.00" y="982.30" width="70.00" height="70.00" fill="#acc43a"/>
<rect x="545.00" y="982.30" width="70.00" height="70.00" fill="#05080a"/>
<line x1="405.00" y1="842.30" x2="405.00" y2="1052.30" stroke="#4a4a4a" stroke-width="1.7"/>
<line x1="405.00" y1="842.30" x2="615.00" y2="842.30" stroke="#4a4a4a" stroke-width="1.7"/>
<line x1="475.00" y1="842.30" x2="475.00" y2="1052.30" stroke="#4a4a4a" stroke-width="1.7"/>
<line x1="405.00" y1="912.30" x2="615.00" y2="912.30" stroke="#4a4a4a" stroke-width="1.7"/>
<line x1="545.00" y1="842.30" x2="545.00" y2="1052.30" stroke="#4a4a4a" stroke-width="1.7"/>
<line x1="405.00" y1="982.30" x2="615.00" y2="982.30" stroke="#4a4a4a" stroke-width="1.7"/>
<line x1="615.00" y1="842.30" x2="615.00" y2="1052.30" stroke="#4a4a4a" stroke-width="1.7"/>
<line x1="405.00" y1="1052.30" x2="615.00" y2="1052.30" stroke="#4a4a4a" stroke-width="1.7"/>
<text x="510.50" y="885.90" font-size="29.5" text-anchor="middle" font-weight="normal" >0.58</text>
<text x="580.50" y="885.90" font-size="29.5" text-anchor="middle" font-weight="normal" >0.44</text>
<text x="580.50" y="955.90" font-size="29.5" text-anchor="middle" font-weight="normal" >0.99</text>
<text x="510.50" y="1006.30" font-size="22.5" text-anchor="middle" font-weight="normal" >*</text>
<text x="510.50" y="1038.90" font-size="25.2" text-anchor="middle" font-weight="normal" >0.014</text>
<text x="514.00" y="836.60" font-size="29.5" text-anchor="middle" font-weight="normal" >L4</text>
<text x="446.00" y="1078.30" font-size="29.5" text-anchor="middle" font-weight="normal" >V1</text>
<text x="516.00" y="1078.30" font-size="29.5" text-anchor="middle" font-weight="normal" >AL</text>
<text x="586.00" y="1078.30" font-size="29.5" text-anchor="middle" font-weight="normal" >PM</text>
<rect x="626.10" y="842.30" width="70.00" height="70.00" fill="#05080a"/>
<rect x="696.10" y="842.30" width="70.00" height="70.00" fill="#a9cde9"/>
<rect x="766.10" y="842.30" width="70.00" height="70.00" fill="#d2e4f3"/>
<rect x="626.10" y="912.30" width="70.00" height="70.00" fill="#f2dc26"/>
<rect x="696.10" y="912.30" width="70.00" height="70.00" fill="#05080a"/>
<rect x="766.10" y="912.30" width="70.00" height="70.00" fill="#a9cde9"/>
<rect x="626.10" y="982.30" width="70.00" height="70.00" fill="#453a94"/>
<rect x="696.10" y="982.30" width="70.00" height="70.00" fill="#fbbf35"/>
<rect x="766.10" y="982.30" width="70.00" height="70.00" fill="#05080a"/>
<line x1="626.10" y1="842.30" x2="626.10" y2="1052.30" stroke="#4a4a4a" stroke-width="1.7"/>
<line x1="626.10" y1="842.30" x2="836.10" y2="842.30" stroke="#4a4a4a" stroke-width="1.7"/>
<line x1="696.10" y1="842.30" x2="696.10" y2="1052.30" stroke="#4a4a4a" stroke-width="1.7"/>
<line x1="626.10" y1="912.30" x2="836.10" y2="912.30" stroke="#4a4a4a" stroke-width="1.7"/>
<line x1="766.10" y1="842.30" x2="766.10" y2="1052.30" stroke="#4a4a4a" stroke-width="1.7"/>
<line x1="626.10" y1="982.30" x2="836.10" y2="982.30" stroke="#4a4a4a" stroke-width="1.7"/>
<line x1="836.10" y1="842.30" x2="836.10" y2="1052.30" stroke="#4a4a4a" stroke-width="1.7"/>
<line x1="626.10" y1="1052.30" x2="836.10" y2="1052.30" stroke="#4a4a4a" stroke-width="1.7"/>
<text x="731.60" y="885.90" font-size="29.5" text-anchor="middle" font-weight="normal" >0.40</text>
<text x="801.60" y="885.90" font-size="29.5" text-anchor="middle" font-weight="normal" >0.16</text>
<text x="661.60" y="936.30" font-size="22.5" text-anchor="middle" font-weight="normal" >**</text>
<text x="661.60" y="968.90" font-size="25.2" text-anchor="middle" font-weight="normal" >0.004</text>
<text x="801.60" y="955.90" font-size="29.5" text-anchor="middle" font-weight="normal" >0.40</text>
<text x="731.60" y="1006.30" font-size="22.5" text-anchor="middle" font-weight="normal" >**</text>
<text x="731.60" y="1038.90" font-size="25.2" text-anchor="middle" font-weight="normal" >0.007</text>
<text x="738.80" y="836.60" font-size="29.5" text-anchor="middle" font-weight="normal" >L5/6</text>
<text x="667.10" y="1078.30" font-size="29.5" text-anchor="middle" font-weight="normal" >V1</text>
<text x="737.10" y="1078.30" font-size="29.5" text-anchor="middle" font-weight="normal" >AL</text>
<text x="807.10" y="1078.30" font-size="29.5" text-anchor="middle" font-weight="normal" >PM</text>
<rect x="848.8" y="842.80" width="17.6" height="210.6" fill="url(#gblue)" stroke="#231f20" stroke-width="1.6"/>
<line x1="863.90" y1="948.10" x2="866.40" y2="948.10" stroke="#231f20" stroke-width="1"/>
<text x="0" y="0" font-size="29.5" text-anchor="middle" transform="translate(933.8 945.00) rotate(-90)">Distance</text>
<text x="873.00" y="847.70" font-size="29.5" text-anchor="start" font-weight="normal" >1</text>
<text x="871.00" y="953.40" font-size="29.5" text-anchor="start" font-weight="normal" >0.5</text>
<text x="871.00" y="1058.00" font-size="29.5" text-anchor="start" font-weight="normal" >0</text>
<text x="-2.00" y="1136.10" font-size="41.5" text-anchor="start" font-weight="bold" >(c)</text>
<rect x="92.8" y="1180.00" width="18.2" height="216.4" fill="url(#gparr)" stroke="#231f20" stroke-width="1.6"/>
<text x="88.30" y="1185.10" font-size="29.5" text-anchor="end" font-weight="normal" >0.05</text>
<line x1="92.80" y1="1223.28" x2="95.30" y2="1223.28" stroke="#231f20" stroke-width="1"/>
<text x="88.30" y="1229.10" font-size="29.5" text-anchor="end" font-weight="normal" >0.04</text>
<line x1="92.80" y1="1266.56" x2="95.30" y2="1266.56" stroke="#231f20" stroke-width="1"/>
<text x="88.30" y="1272.10" font-size="29.5" text-anchor="end" font-weight="normal" >0.03</text>
<line x1="92.80" y1="1309.84" x2="95.30" y2="1309.84" stroke="#231f20" stroke-width="1"/>
<text x="88.30" y="1315.70" font-size="29.5" text-anchor="end" font-weight="normal" >0.02</text>
<line x1="92.80" y1="1353.12" x2="95.30" y2="1353.12" stroke="#231f20" stroke-width="1"/>
<text x="88.30" y="1358.70" font-size="29.5" text-anchor="end" font-weight="normal" >0.01</text>
<text x="66.30" y="1402.10" font-size="29.5" text-anchor="end" font-weight="normal" >0</text>
<text x="0" y="0" font-size="29.5" text-anchor="middle" transform="translate(24.0 1285.30) rotate(-90)">p-value</text>
<text x="147.50" y="1224.40" font-size="29.5" text-anchor="middle" font-weight="normal" >L2/3</text>
<text x="151.00" y="1294.40" font-size="29.5" text-anchor="middle" font-weight="normal" >L4</text>
<text x="147.50" y="1364.40" font-size="29.5" text-anchor="middle" font-weight="normal" >L5/6</text>
<rect x="183.80" y="1182.70" width="70.00" height="70.00" fill="#05080a"/>
<rect x="253.80" y="1182.70" width="70.00" height="70.00" fill="#55a0d5"/>
<rect x="323.80" y="1182.70" width="70.00" height="70.00" fill="#5fa5d7"/>
<rect x="183.80" y="1252.70" width="70.00" height="70.00" fill="#453a94"/>
<rect x="253.80" y="1252.70" width="70.00" height="70.00" fill="#05080a"/>
<rect x="323.80" y="1252.70" width="70.00" height="70.00" fill="#98c5e6"/>
<rect x="183.80" y="1322.70" width="70.00" height="70.00" fill="#453a94"/>
<rect x="253.80" y="1322.70" width="70.00" height="70.00" fill="#453a94"/>
<rect x="323.80" y="1322.70" width="70.00" height="70.00" fill="#05080a"/>
<line x1="183.80" y1="1182.70" x2="183.80" y2="1392.70" stroke="#4a4a4a" stroke-width="1.7"/>
<line x1="183.80" y1="1182.70" x2="393.80" y2="1182.70" stroke="#4a4a4a" stroke-width="1.7"/>
<line x1="253.80" y1="1182.70" x2="253.80" y2="1392.70" stroke="#4a4a4a" stroke-width="1.7"/>
<line x1="183.80" y1="1252.70" x2="393.80" y2="1252.70" stroke="#4a4a4a" stroke-width="1.7"/>
<line x1="323.80" y1="1182.70" x2="323.80" y2="1392.70" stroke="#4a4a4a" stroke-width="1.7"/>
<line x1="183.80" y1="1322.70" x2="393.80" y2="1322.70" stroke="#4a4a4a" stroke-width="1.7"/>
<line x1="393.80" y1="1182.70" x2="393.80" y2="1392.70" stroke="#4a4a4a" stroke-width="1.7"/>
<line x1="183.80" y1="1392.70" x2="393.80" y2="1392.70" stroke="#4a4a4a" stroke-width="1.7"/>
<text x="289.30" y="1226.30" font-size="29.5" text-anchor="middle" font-weight="normal" >0.75</text>
<text x="359.30" y="1226.30" font-size="29.5" text-anchor="middle" font-weight="normal" >0.69</text>
<text x="359.30" y="1296.30" font-size="29.5" text-anchor="middle" font-weight="normal" >0.39</text>
<text x="293.40" y="1177.00" font-size="29.5" text-anchor="middle" font-weight="normal" >V1</text>
<text x="220.80" y="1419.00" font-size="29.5" text-anchor="middle" font-weight="normal" >L2/3</text>
<text x="285.80" y="1419.00" font-size="29.5" text-anchor="middle" font-weight="normal" >L4</text>
<text x="359.80" y="1419.00" font-size="29.5" text-anchor="middle" font-weight="normal" >L5/6</text>
<rect x="405.00" y="1182.70" width="70.00" height="70.00" fill="#05080a"/>
<rect x="475.00" y="1182.70" width="70.00" height="70.00" fill="#5aa5d7"/>
<rect x="545.00" y="1182.70" width="70.00" height="70.00" fill="#aad0ec"/>
<rect x="405.00" y="1252.70" width="70.00" height="70.00" fill="#453a94"/>
<rect x="475.00" y="1252.70" width="70.00" height="70.00" fill="#05080a"/>
<rect x="545.00" y="1252.70" width="70.00" height="70.00" fill="#5aa5d7"/>
<rect x="405.00" y="1322.70" width="70.00" height="70.00" fill="#453a94"/>
<rect x="475.00" y="1322.70" width="70.00" height="70.00" fill="#453a94"/>
<rect x="545.00" y="1322.70" width="70.00" height="70.00" fill="#05080a"/>
<line x1="405.00" y1="1182.70" x2="405.00" y2="1392.70" stroke="#4a4a4a" stroke-width="1.7"/>
<line x1="405.00" y1="1182.70" x2="615.00" y2="1182.70" stroke="#4a4a4a" stroke-width="1.7"/>
<line x1="475.00" y1="1182.70" x2="475.00" y2="1392.70" stroke="#4a4a4a" stroke-width="1.7"/>
<line x1="405.00" y1="1252.70" x2="615.00" y2="1252.70" stroke="#4a4a4a" stroke-width="1.7"/>
<line x1="545.00" y1="1182.70" x2="545.00" y2="1392.70" stroke="#4a4a4a" stroke-width="1.7"/>
<line x1="405.00" y1="1322.70" x2="615.00" y2="1322.70" stroke="#4a4a4a" stroke-width="1.7"/>
<line x1="615.00" y1="1182.70" x2="615.00" y2="1392.70" stroke="#4a4a4a" stroke-width="1.7"/>
<line x1="405.00" y1="1392.70" x2="615.00" y2="1392.70" stroke="#4a4a4a" stroke-width="1.7"/>
<text x="510.50" y="1226.30" font-size="29.5" text-anchor="middle" font-weight="normal" >0.7</text>
<text x="580.50" y="1226.30" font-size="29.5" text-anchor="middle" font-weight="normal" >0.31</text>
<text x="580.50" y="1296.30" font-size="29.5" text-anchor="middle" font-weight="normal" >0.71</text>
<text x="514.00" y="1177.00" font-size="29.5" text-anchor="middle" font-weight="normal" >AL</text>
<text x="442.00" y="1419.00" font-size="29.5" text-anchor="middle" font-weight="normal" >L2/3</text>
<text x="507.00" y="1419.00" font-size="29.5" text-anchor="middle" font-weight="normal" >L4</text>
<text x="581.00" y="1419.00" font-size="29.5" text-anchor="middle" font-weight="normal" >L5/6</text>
<rect x="626.10" y="1182.70" width="70.00" height="70.00" fill="#05080a"/>
<rect x="696.10" y="1182.70" width="70.00" height="70.00" fill="#64a8d9"/>
<rect x="766.10" y="1182.70" width="70.00" height="70.00" fill="#82b9e1"/>
<rect x="626.10" y="1252.70" width="70.00" height="70.00" fill="#453a94"/>
<rect x="696.10" y="1252.70" width="70.00" height="70.00" fill="#05080a"/>
<rect x="766.10" y="1252.70" width="70.00" height="70.00" fill="#6eafde"/>
<rect x="626.10" y="1322.70" width="70.00" height="70.00" fill="#453a94"/>
<rect x="696.10" y="1322.70" width="70.00" height="70.00" fill="#453a94"/>
<rect x="766.10" y="1322.70" width="70.00" height="70.00" fill="#05080a"/>
<line x1="626.10" y1="1182.70" x2="626.10" y2="1392.70" stroke="#4a4a4a" stroke-width="1.7"/>
<line x1="626.10" y1="1182.70" x2="836.10" y2="1182.70" stroke="#4a4a4a" stroke-width="1.7"/>
<line x1="696.10" y1="1182.70" x2="696.10" y2="1392.70" stroke="#4a4a4a" stroke-width="1.7"/>
<line x1="626.10" y1="1252.70" x2="836.10" y2="1252.70" stroke="#4a4a4a" stroke-width="1.7"/>
<line x1="766.10" y1="1182.70" x2="766.10" y2="1392.70" stroke="#4a4a4a" stroke-width="1.7"/>
<line x1="626.10" y1="1322.70" x2="836.10" y2="1322.70" stroke="#4a4a4a" stroke-width="1.7"/>
<line x1="836.10" y1="1182.70" x2="836.10" y2="1392.70" stroke="#4a4a4a" stroke-width="1.7"/>
<line x1="626.10" y1="1392.70" x2="836.10" y2="1392.70" stroke="#4a4a4a" stroke-width="1.7"/>
<text x="731.60" y="1226.30" font-size="29.5" text-anchor="middle" font-weight="normal" >0.65</text>
<text x="801.60" y="1226.30" font-size="29.5" text-anchor="middle" font-weight="normal" >0.52</text>
<text x="801.60" y="1296.30" font-size="29.5" text-anchor="middle" font-weight="normal" >0.6</text>
<text x="737.60" y="1177.00" font-size="29.5" text-anchor="middle" font-weight="normal" >PM</text>
<text x="663.10" y="1419.00" font-size="29.5" text-anchor="middle" font-weight="normal" >L2/3</text>
<text x="728.10" y="1419.00" font-size="29.5" text-anchor="middle" font-weight="normal" >L4</text>
<text x="802.10" y="1419.00" font-size="29.5" text-anchor="middle" font-weight="normal" >L5/6</text>
<rect x="848.8" y="1183.20" width="17.6" height="210.6" fill="url(#gblue)" stroke="#231f20" stroke-width="1.6"/>
<line x1="863.90" y1="1305.01" x2="866.40" y2="1305.01" stroke="#231f20" stroke-width="1"/>
<line x1="863.90" y1="1216.23" x2="866.40" y2="1216.23" stroke="#231f20" stroke-width="1"/>
<text x="0" y="0" font-size="29.5" text-anchor="middle" transform="translate(933.8 1288.20) rotate(-90)">Distance</text>
<text x="872.00" y="1223.50" font-size="29.5" text-anchor="start" font-weight="normal" >1</text>
<text x="869.80" y="1310.00" font-size="29.5" text-anchor="start" font-weight="normal" >0.5</text>
<text x="869.80" y="1397.20" font-size="29.5" text-anchor="start" font-weight="normal" >0</text>
</svg>
</body></html>
